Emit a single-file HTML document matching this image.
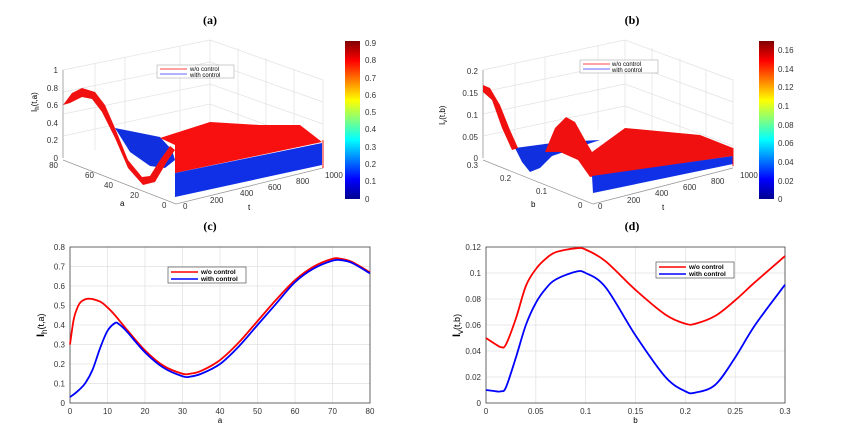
<!DOCTYPE html>
<html><head><meta charset="utf-8">
<style>
body{margin:0;background:#fff;}
svg{display:block;font-family:"Liberation Sans",sans-serif;}
.t{font-family:"Liberation Serif",serif;font-weight:bold;font-size:12px;}
.tk{font-size:8px;fill:#333;}
.g{stroke:#e2e2e2;stroke-width:0.7;fill:none;}
</style></head>
<body>
<svg id="s" width="842" height="431" viewBox="0 0 842 431">
<defs>
<linearGradient id="jet" x1="0" y1="1" x2="0" y2="0">
<stop offset="0" stop-color="#00008f"/><stop offset="0.125" stop-color="#0000ff"/>
<stop offset="0.375" stop-color="#00ffff"/><stop offset="0.625" stop-color="#ffff00"/>
<stop offset="0.875" stop-color="#ff0000"/><stop offset="1" stop-color="#800000"/>
</linearGradient>
</defs>
<text class="t" x="210" y="24" text-anchor="middle">(a)</text>
<text class="t" x="632" y="24" text-anchor="middle">(b)</text>
<text class="t" x="210" y="230" text-anchor="middle">(c)</text>
<text class="t" x="632" y="230" text-anchor="middle">(d)</text>

<!-- panel a 3D -->
<g>
<path class="g" d="M63,158 L63,70 M210,124 L210,40 M323,168 L323,80 M63,70 L210,40 L323,80 M63,114 L210,84 L323,124 M63,136 L210,104 L323,146 M63,92 L210,62 L323,102 M95,150 L95,63 M125,145 L125,57 M180,130 L180,46 M238,130 L238,48 M266,138 L266,58 M294,145 L294,69"/>
<path d="M63,160 L176,204 L323,168" stroke="#999" stroke-width="0.8" fill="none"/>
<path d="M63,158 L63,70" stroke="#999" stroke-width="0.8"/>
<polygon points="115,128 160,137 172,150 175,160 165,168 150,166 130,152" fill="#1030e0"/>
<polygon points="63,105 72,93 82,88 95,92 105,105 115,128 128,160 142,177 150,176 160,160 170,146 175,150 168,160 155,182 143,185 128,168 115,138 102,112 92,99 82,97 70,103" fill="#f01010"/>
<polygon points="160,138 210,122 260,125 300,125 322,142 175,173 175,145" fill="#f81010"/>
<polygon points="175,173 322,143 322,165 175,197" fill="#1030e8"/>
<line x1="323" y1="140" x2="323" y2="168" stroke="#f01010" stroke-width="1"/>
<rect x="157" y="65" width="77" height="13" fill="#fff" stroke="#999" stroke-width="0.5"/>
<line x1="160" y1="69" x2="187" y2="69" stroke="#f44" stroke-width="1"/>
<line x1="160" y1="74" x2="187" y2="74" stroke="#66f" stroke-width="1"/>
<text x="190" y="71" font-size="6">w/o control</text>
<text x="190" y="77" font-size="6">with control</text>
<g class="tk">
<text x="58" y="161" text-anchor="end">0</text><text x="58" y="143" text-anchor="end">0.2</text>
<text x="58" y="126" text-anchor="end">0.4</text><text x="58" y="108" text-anchor="end">0.6</text>
<text x="58" y="91" text-anchor="end">0.8</text><text x="58" y="73" text-anchor="end">1</text>
<text x="58" y="168" text-anchor="end">80</text><text x="85" y="178">60</text>
<text x="104" y="188">40</text><text x="130" y="198">20</text><text x="162" y="208">0</text>
<text x="183" y="209">0</text><text x="210" y="203">200</text><text x="240" y="196">400</text>
<text x="268" y="190">600</text><text x="296" y="184">800</text><text x="325" y="178">1000</text>
</g>
<text x="120" y="206" font-size="8">a</text><text x="248" y="210" font-size="8">t</text>
<text x="37" y="112" font-size="8" transform="rotate(-90 37 112)">I<tspan font-size="6" dy="2">h</tspan><tspan dy="-2">(t,a)</tspan></text>
<rect x="345" y="41" width="15" height="158" fill="url(#jet)"/>
<g class="tk">
<text x="365" y="202">0</text><text x="365" y="184">0.1</text><text x="365" y="167">0.2</text>
<text x="365" y="150">0.3</text><text x="365" y="132">0.4</text><text x="365" y="115">0.5</text>
<text x="365" y="98">0.6</text><text x="365" y="81">0.7</text><text x="365" y="63">0.8</text><text x="365" y="46">0.9</text>
</g>
</g>

<!-- panel b 3D -->
<g>
<path class="g" d="M483,158 L483,70 M625,124 L625,40 M733,168 L733,80 M483,70 L625,40 L733,80 M483,136 L625,106 L733,146 M483,114 L625,84 L733,124 M483,92 L625,62 L733,102 M515,150 L515,63 M545,145 L545,57 M598,130 L598,46 M652,130 L652,48 M680,138 L680,58 M706,145 L706,69"/>
<path d="M483,160 L593,204 L733,168" stroke="#999" stroke-width="0.8" fill="none"/>
<path d="M483,158 L483,70" stroke="#999" stroke-width="0.8"/>
<polygon points="515,148 560,142 600,140 552,156 540,168 530,172 522,162" fill="#1030e0"/>
<polygon points="483,85 490,88 500,105 510,130 518,148 512,150 502,128 492,100 483,92" fill="#f01010"/>
<polygon points="545,152 555,128 566,117 575,122 585,140 592,152 625,128 700,135 733,148 733,156 590,177 578,160 560,152" fill="#f01010"/>
<polygon points="592,176 733,156 733,164 593,193" fill="#1030e8"/>
<line x1="733" y1="148" x2="733" y2="166" stroke="#f01010" stroke-width="1"/>
<rect x="580" y="60" width="78" height="13" fill="#fff" stroke="#999" stroke-width="0.5"/>
<line x1="583" y1="64" x2="610" y2="64" stroke="#f44" stroke-width="1"/>
<line x1="583" y1="69" x2="610" y2="69" stroke="#66f" stroke-width="1"/>
<text x="612" y="66" font-size="6">w/o control</text>
<text x="612" y="72" font-size="6">with control</text>
<g class="tk">
<text x="478" y="161" text-anchor="end">0</text><text x="478" y="140" text-anchor="end">0.05</text>
<text x="478" y="118" text-anchor="end">0.1</text><text x="478" y="96" text-anchor="end">0.15</text>
<text x="478" y="74" text-anchor="end">0.2</text>
<text x="478" y="168" text-anchor="end">0.3</text><text x="500" y="181">0.2</text>
<text x="536" y="194">0.1</text><text x="578" y="208">0</text>
<text x="598" y="209">0</text><text x="627" y="203">200</text><text x="655" y="196">400</text>
<text x="683" y="190">600</text><text x="711" y="184">800</text><text x="740" y="178">1000</text>
</g>
<text x="531" y="207" font-size="8">b</text><text x="662" y="210" font-size="8">t</text>
<text x="445" y="125" font-size="8" transform="rotate(-90 445 125)">I<tspan font-size="6" dy="2">v</tspan><tspan dy="-2">(t,b)</tspan></text>
<rect x="759" y="41" width="15" height="158" fill="url(#jet)"/>
<g class="tk">
<text x="778" y="202">0</text><text x="778" y="184">0.02</text><text x="778" y="165">0.04</text>
<text x="778" y="146">0.06</text><text x="778" y="128">0.08</text><text x="778" y="109">0.1</text>
<text x="778" y="90">0.12</text><text x="778" y="72">0.14</text><text x="778" y="53">0.16</text>
</g>
</g>

<g id="c"></g>
<g id="d"></g>
</svg>
<script>
const cX=[0,1,2,3,5,8,10,12,15,20,25,30,32,35,40,45,50,55,60,65,70,72,75,80];
const cRed=[0.3,0.43,0.49,0.52,0.535,0.52,0.49,0.45,0.38,0.27,0.19,0.15,0.15,0.165,0.22,0.31,0.42,0.53,0.63,0.70,0.74,0.74,0.725,0.67];
const cBX=[0,2,4,6,8,10,12,13,15,20,25,30,32,35,40,45,50,55,60,65,70,72,75,80];
const cBlue=[0.03,0.06,0.1,0.17,0.28,0.37,0.41,0.405,0.37,0.26,0.18,0.137,0.135,0.15,0.2,0.29,0.40,0.51,0.62,0.69,0.73,0.733,0.72,0.665];
const cXT=[0,10,20,30,40,50,60,70,80];
const cYT=[0,0.1,0.2,0.3,0.4,0.5,0.6,0.7,0.8];
const dX=[0,0.01,0.015,0.02,0.03,0.04,0.05,0.06,0.07,0.09,0.1,0.12,0.15,0.18,0.2,0.21,0.23,0.25,0.27,0.3];
const dRed=[0.05,0.045,0.043,0.045,0.065,0.09,0.103,0.111,0.116,0.119,0.118,0.109,0.087,0.068,0.061,0.061,0.067,0.079,0.093,0.113];
const dBX=[0,0.01,0.015,0.02,0.03,0.04,0.05,0.06,0.07,0.09,0.1,0.12,0.15,0.18,0.2,0.21,0.23,0.25,0.27,0.3];
const dBlue=[0.01,0.009,0.009,0.012,0.035,0.06,0.077,0.088,0.095,0.101,0.1,0.089,0.052,0.02,0.009,0.008,0.014,0.035,0.06,0.091];
const dXT=[0,0.05,0.1,0.15,0.2,0.25,0.3];
const dXL=["0","0.05","0.1","0.15","0.2","0.25","0.3"];
const dYT=[0,0.02,0.04,0.06,0.08,0.1,0.12];
const dYL=["0","0.02","0.04","0.06","0.08","0.1","0.12"];
const NS="http://www.w3.org/2000/svg";
function mk(p,tag,a){const e=document.createElementNS(NS,tag);for(const k in a)e.setAttribute(k,a[k]);p.appendChild(e);return e;}
function smooth(xs,ys){let s=[];for(let i=0;i<xs.length-1;i++){const x0=xs[Math.max(i-1,0)],y0=ys[Math.max(i-1,0)],x1=xs[i],y1=ys[i],x2=xs[i+1],y2=ys[i+1],x3=xs[Math.min(i+2,xs.length-1)],y3=ys[Math.min(i+2,xs.length-1)];
if(i==0)s.push("M"+x1+","+y1);s.push("C"+(x1+(x2-x0)/6)+","+(y1+(y2-y0)/6)+" "+(x2-(x3-x1)/6)+","+(y2-(y3-y1)/6)+" "+x2+","+y2);}return s.join(" ");}
function chart(gid,L,R,xmax,ymax,xt,xl,yt,yl,xs1,y1,xs2,y2,leg,xlab,ylab,sub){
const g=document.getElementById(gid),T=247,B=403;
const sx=v=>L+v/xmax*(R-L),sy=v=>B-v/ymax*(B-T);
xt.forEach((v,i)=>{const l=mk(g,"line",{x1:sx(v),x2:sx(v),y1:T,y2:B,stroke:"#e0e0e0","stroke-width":0.7});

const t=mk(g,"text",{x:sx(v),y:B+11,"text-anchor":"middle","font-size":8,fill:"#333"});t.textContent=xl[i];
});
yt.forEach((v,i)=>{const l=mk(g,"line",{x1:L,x2:R,y1:sy(v),y2:sy(v),stroke:"#e0e0e0","stroke-width":0.7});

const t=mk(g,"text",{x:L-5,y:sy(v)+3,"text-anchor":"end","font-size":8,fill:"#333"});t.textContent=yl[i];
});
const fr=mk(g,"rect",{x:L,y:T,width:R-L,height:B-T,fill:"none",stroke:"#444","stroke-width":0.8});

const p1=mk(g,"path",{d:smooth(xs1.map(sx),y1.map(sy)),fill:"none",stroke:"#f00","stroke-width":1.8});

const p2=mk(g,"path",{d:smooth(xs2.map(sx),y2.map(sy)),fill:"none",stroke:"#00f","stroke-width":1.8});

const lg=mk(g,"g",{});
mk(lg,"rect",{x:leg[0],y:leg[1],width:leg[2],height:16,fill:"#fff",stroke:"#555","stroke-width":0.7});
mk(lg,"line",{x1:leg[0]+3,x2:leg[0]+30,y1:leg[1]+5,y2:leg[1]+5,stroke:"#f00","stroke-width":1.5});
mk(lg,"line",{x1:leg[0]+3,x2:leg[0]+30,y1:leg[1]+12,y2:leg[1]+12,stroke:"#00f","stroke-width":1.5});
let t=mk(lg,"text",{x:leg[0]+33,y:leg[1]+7,"font-size":6.5,"font-weight":"bold"});t.textContent="w/o control";
t=mk(lg,"text",{x:leg[0]+33,y:leg[1]+14,"font-size":6.5,"font-weight":"bold"});t.textContent="with control";
t=mk(g,"text",{x:(L+R)/2,y:B+20,"text-anchor":"middle","font-size":8});t.textContent=xlab;

const yx=L-26,yy=(T+B)/2+12;
t=mk(g,"text",{x:yx,y:yy,"font-size":9,transform:"rotate(-90 "+yx+" "+yy+")"});

const a=mk(t,"tspan",{"font-weight":"bold","font-size":11});a.textContent="I";
const b=mk(t,"tspan",{"font-size":8,dy:3});b.textContent=sub;
const c=mk(t,"tspan",{dy:-3});c.textContent=ylab;
}
chart("c",70,370,80,0.8,cXT,cXT.map(String),cYT,cYT.map(String),cX,cRed,cBX,cBlue,[168,267,78],"a","(t,a)","h");
chart("d",486,785,0.3,0.12,dXT,dXL,dYT,dYL,dX,dRed,dBX,dBlue,[656,262,78],"b","(t,b)","v");
</script>
</body></html>
